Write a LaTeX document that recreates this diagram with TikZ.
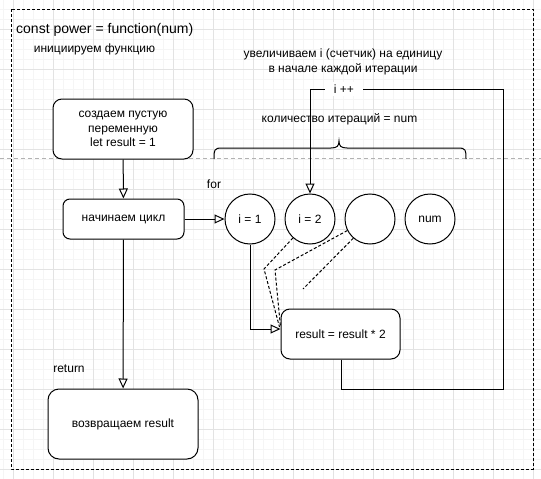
\documentclass[tikz,border=0pt]{standalone}
\usepackage{fontspec}
\setmainfont{Liberation Sans}
\usetikzlibrary{arrows.meta,calc}
\begin{document}
\begin{tikzpicture}[x=1pt,y=-1pt,
  every node/.style={font=\fontsize{12}{14.5}\selectfont, inner sep=0pt},
  box/.style={draw, rounded corners=9pt, line width=1pt, align=center, fill=white},
  circ/.style={draw, circle, minimum size=50pt, line width=1pt, fill=white},
  arr/.style={line width=1pt, -{Triangle[open, length=10pt, width=9pt]}},
  ln/.style={line width=1pt},
  dsh/.style={line width=1pt, dash pattern=on 3pt off 2pt},
  minorgrid/.style={draw=black!4, line width=1pt},
  majorgrid/.style={draw=black!11, line width=1pt},
]
\useasboundingbox (0,0) rectangle (541,479);
\fill[white] (0,0) rectangle (541,479);
% grid
\foreach \x in {3,13,...,543} \draw[minorgrid] (\x,0) -- (\x,479);
\foreach \y in {9,19,...,479} \draw[minorgrid] (0,\y) -- (541,\y);
\foreach \x in {13,53,...,533} \draw[majorgrid] (\x,0) -- (\x,479);
\foreach \y in {29,69,...,469} \draw[majorgrid] (0,\y) -- (541,\y);
% page break
\draw[black!30, line width=1pt, dash pattern=on 4pt off 3pt] (0,158) -- (541,158);
% container
\draw[line width=1pt, dash pattern=on 3pt off 2pt] (11,9) rectangle (533,469);

% texts
\node[anchor=west] (title) at (16,30) {\fontsize{14}{16}\selectfont const power = function(num)};
\node (init) at (94.5,49) {инициируем функцию};
\node[align=center] (incr) at (343,61.5) {увеличиваем i (счетчик) на единицу\\[0.5pt]в начале каждой итерации};
\node (count) at (339.5,119) {количество итераций = num};
\node (for) at (214,184) {for};
\node (ret) at (69,369) {return};

% brace
\draw[ln] (214,159) .. controls (214,150) and (214,148) .. (222,148) -- (331,148)
  .. controls (337,148) and (339,146) .. (339,141)
  .. controls (339,146) and (341,148) .. (347,148) -- (458,148)
  .. controls (466,148) and (466,150) .. (466,159);

% boxes
\node[box, minimum width=140pt, minimum height=60pt] (b1) at (123,129) {создаем пустую\\переменную\\let result = 1};
\node[box, rounded corners=7pt, minimum width=121pt, minimum height=40pt] (b2) at (123.5,219) {начинаем цикл};
\node[box, rounded corners=11pt, minimum width=150pt, minimum height=70pt] (b4) at (123,424) {возвращаем result};
\node[box, minimum width=119pt, minimum height=50pt] (res) at (340.5,334) {result = result * 2};

\node[circ] (c1) at (250,219) {i = 1};
\node[circ] (c2) at (310,219) {i = 2};
\node[circ] (c3) at (370,219) {};
\node[circ] (c4) at (430,219) {num};

\coordinate (loopc) at (503,89);
\coordinate (dangle) at (303,289);

% connectors
\draw[arr] (b1) -- (b2);
\draw[arr] (b2) -- (c1);
\draw[arr] (b2) -- (b4);
\draw[arr] (c1.south) |- ([yshift=5pt]res.west);
\draw[arr] ([xshift=0.5pt]res.south) -- ++(0,30) -| (loopc) -| (c2.north);
\node[fill=white, inner xsep=9pt, inner ysep=3pt] (ipp) at (344,89) {i ++};

% dashed
\draw[dsh] (c2.228) -- (264,269) -- ([xshift=-1pt,yshift=7pt]res.west);
\draw[dsh] (c3.207) -- (275,270) -- ([xshift=0pt,yshift=7pt]res.west);
\draw[dsh] (c3.229) -- (dangle);
\end{tikzpicture}
\end{document}
